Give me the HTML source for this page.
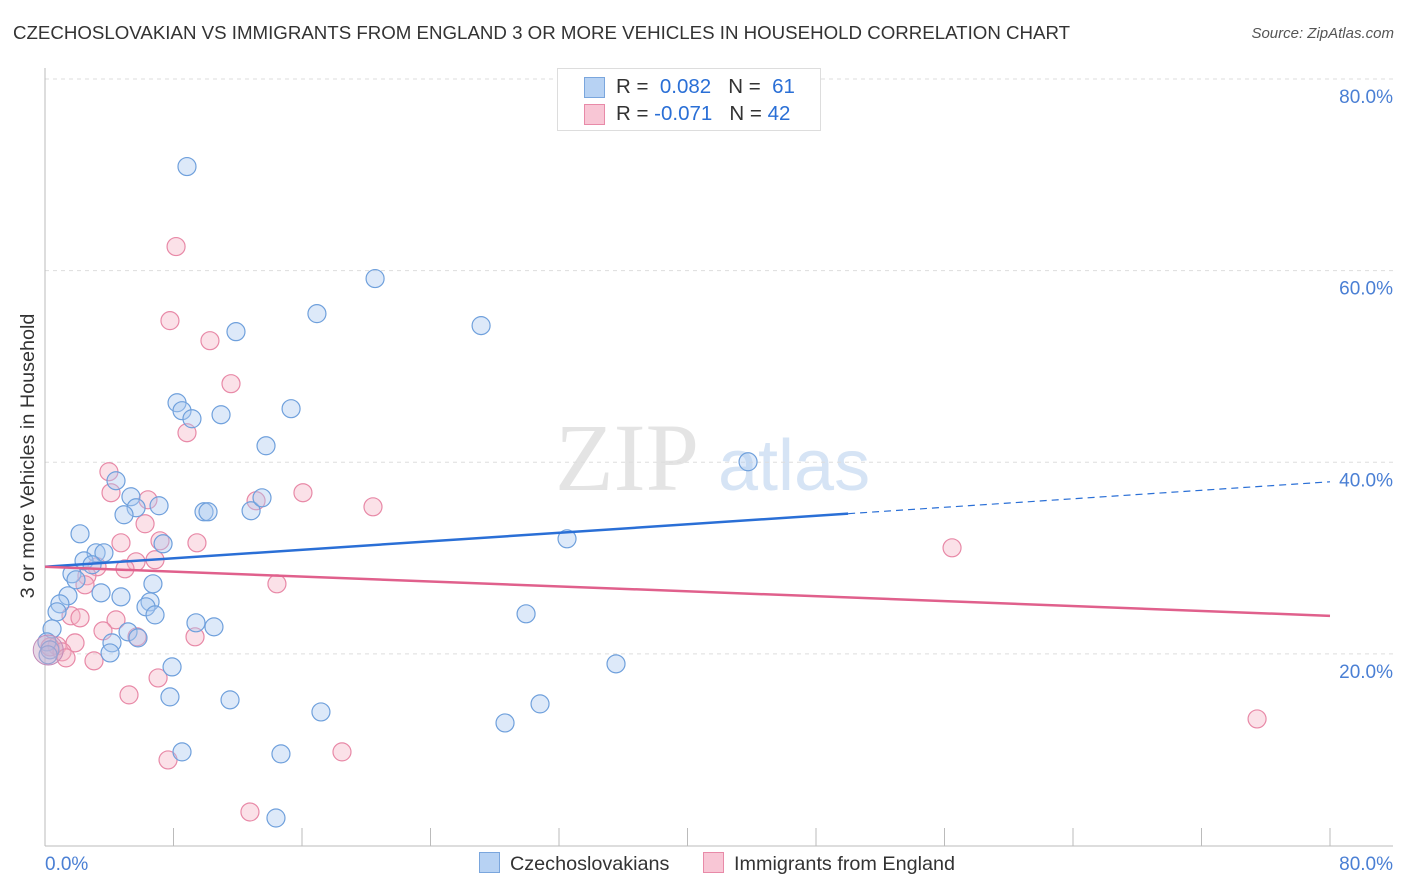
<!DOCTYPE html>
<html><head><meta charset="utf-8"><style>
body{margin:0;background:#fff;font-family:"Liberation Sans",sans-serif;}
#wrap{position:relative;width:1406px;height:892px;overflow:hidden;}
.t{position:absolute;white-space:nowrap;}
</style></head><body>
<div id="wrap">
<div class="t" style="left:13px;top:22px;font-size:18.7px;color:#333;">CZECHOSLOVAKIAN VS IMMIGRANTS FROM ENGLAND 3 OR MORE VEHICLES IN HOUSEHOLD CORRELATION CHART</div>
<div class="t" style="right:12px;top:25px;font-size:15px;color:#555;font-style:italic;">Source: ZipAtlas.com</div>
<svg id="svg" width="1406" height="892" style="position:absolute;left:0;top:0"></svg>
</div>
<script>
const xTickLabels=["0.0%","80.0%"];
const yTicks=[20,40,60,80];
const blueX=[8.84,20.55,16.93,27.15,11.89,8.22,8.53,9.15,10.96,15.32,13.76,43.77,4.42,5.35,7.10,5.67,4.92,9.90,10.15,12.83,13.51,2.18,7.35,32.50,3.18,3.67,2.43,2.93,1.68,1.93,6.72,3.49,4.73,1.43,0.93,6.54,6.29,6.85,0.75,29.95,9.40,10.52,5.17,0.44,4.17,5.79,4.05,0.12,0.31,35.55,7.91,7.78,11.52,17.18,30.82,28.64,8.53,14.69,14.38,0.19];
const blueY=[70.86,59.17,55.51,54.26,53.63,46.21,45.38,44.54,44.96,45.59,41.72,40.05,38.07,36.40,35.46,35.25,34.52,34.83,34.83,34.94,36.29,32.53,31.49,32.01,30.55,30.55,29.71,29.30,28.36,27.73,27.31,26.37,25.95,26.06,25.22,25.43,24.91,24.07,24.39,24.18,23.24,22.82,22.30,22.61,21.15,21.67,20.10,21.25,20.42,18.96,18.64,15.51,15.20,13.94,14.78,12.79,9.77,9.56,2.87,19.90];
const pinkX=[8.16,7.78,10.27,11.58,8.84,3.98,4.11,6.41,13.14,16.06,20.42,6.23,4.73,9.46,7.16,6.85,5.67,3.24,2.61,4.98,2.49,14.44,56.47,1.62,2.18,4.42,3.61,9.34,5.73,1.87,0.75,0.31,1.06,3.05,1.31,5.23,7.04,7.66,18.49,12.76,75.46];
const pinkY=[62.51,54.78,52.69,48.20,43.08,39.01,36.82,36.08,35.98,36.82,35.35,33.58,31.59,31.59,31.80,29.82,29.61,29.09,28.15,28.88,27.21,27.31,31.07,23.97,23.76,23.55,22.40,21.78,21.78,21.15,20.84,20.73,20.21,19.27,19.58,15.72,17.49,8.93,9.77,3.50,13.21];
const blueTrend=[29.09,37.96];
const pinkTrend=[29.09,23.97];
const NS="http://www.w3.org/2000/svg";
const svg=document.getElementById('svg');
const X0=45,X1=1330,Y0=845.5,Y80=79;
function sx(v){return X0+(X1-X0)*v/80;}
function sy(v){return Y0-(Y0-Y80)*v/80;}
function mk(tag,attrs,parent){const e=document.createElementNS(NS,tag);for(const k in attrs)e.setAttribute(k,attrs[k]);(parent||svg).appendChild(e);return e;}
let w=mk('text',{x:555,y:490,'font-size':96,fill:'#e4e4e4','font-family':'Liberation Serif, serif'});w.textContent='ZIP';


let w2=mk('text',{x:718,y:490,'font-size':72,fill:'#d6e4f5','font-family':'Liberation Sans, sans-serif'});w2.textContent='atlas';


yTicks.forEach(v=>{
 const g=mk('line',{x1:X0,x2:1393,y1:sy(v),y2:sy(v),stroke:'#ddd','stroke-dasharray':'4,4'});
 
 
 const t=mk('text',{x:1393,y:sy(v)+24,'text-anchor':'end','font-size':19,fill:'#4a7fd4','font-family':'Liberation Sans, sans-serif'});
 t.textContent=v.toFixed(1)+'%';
 
 
});
let ax=mk('line',{x1:X0,x2:X0,y1:68,y2:846,stroke:'#bbb'});


let bx=mk('line',{x1:X0,x2:1393,y1:846,y2:846,stroke:'#bbb'});


for(let i=0;i<=10;i++){const v=i*8;const tk=mk('line',{x1:sx(v),x2:sx(v),y1:828,y2:846,stroke:'#bbb'});
 
 }
[[0,'start',45],[80,'end',1393]].forEach((a,i)=>{const t=mk('text',{x:a[2],y:870,'text-anchor':a[1],'font-size':19,fill:'#4a7fd4','font-family':'Liberation Sans, sans-serif'});t.textContent=xTickLabels[i];
 
 });
let yt=mk('text',{x:0,y:0,'font-size':19.8,fill:'#333','font-family':'Liberation Sans, sans-serif','text-anchor':'middle',transform:'translate(34,456) rotate(-90)'});yt.textContent='3 or more Vehicles in Household';


function pts(xs,ys,fill,stroke,name){xs.forEach((x,i)=>{const c=mk('circle',{cx:sx(x),cy:sy(ys[i]),r:9,fill:fill,'fill-opacity':0.4,stroke:stroke,'stroke-width':1.2});
 
 });}
pts(pinkX,pinkY,'#f5b3c6','#e889a7','point-england');
pts(blueX,blueY,'#a9c8ef','#6fa0dc','point-czechoslovakian');
let big=mk('circle',{cx:sx(0.2),cy:sy(20.4),r:15,fill:'#c9a6c6','fill-opacity':0.45,stroke:'#c28ab8'});


const bMid=blueTrend[0]+(blueTrend[1]-blueTrend[0])*(50/80);
let l1=mk('line',{x1:sx(0),y1:sy(blueTrend[0]),x2:sx(50),y2:sy(bMid),stroke:'#2a6fd6','stroke-width':2.5});


let l2=mk('line',{x1:sx(50),y1:sy(bMid),x2:sx(80),y2:sy(blueTrend[1]),stroke:'#2a6fd6','stroke-width':1.2,'stroke-dasharray':'7,5'});


let l3=mk('line',{x1:sx(0),y1:sy(pinkTrend[0]),x2:sx(80),y2:sy(pinkTrend[1]),stroke:'#e0608c','stroke-width':2.5});


</script>
<div class="t" style="left:557px;top:68px;width:262px;height:61px;border:1px solid #ddd;background:#fff;font-size:20.5px;color:#333;">
 <div style="position:absolute;left:26px;top:8px;width:19px;height:19px;background:#b7d2f3;border:1px solid #7aa6dd;"></div>
 <div style="position:absolute;left:58px;top:6px;">R = <span style="color:#2a6fd6">&nbsp;0.082</span>&nbsp;&nbsp;&nbsp;N = <span style="color:#2a6fd6">&nbsp;61</span></div>
 <div style="position:absolute;left:26px;top:35px;width:19px;height:19px;background:#f8c6d5;border:1px solid #e88aa8;"></div>
 <div style="position:absolute;left:58px;top:33px;">R = <span style="color:#2a6fd6">-0.071</span>&nbsp;&nbsp;&nbsp;N = <span style="color:#2a6fd6">42</span></div>
</div>
<div class="t" style="left:479px;top:852px;font-size:19.8px;color:#333;"><span style="display:inline-block;width:19px;height:19px;background:#b7d2f3;border:1px solid #7aa6dd;vertical-align:-3px;margin-right:10px"></span>Czechoslovakians</div>
<div class="t" style="left:703px;top:852px;font-size:19.8px;color:#333;"><span style="display:inline-block;width:19px;height:19px;background:#f8c6d5;border:1px solid #e88aa8;vertical-align:-3px;margin-right:10px"></span>Immigrants from England</div>
</body></html>
